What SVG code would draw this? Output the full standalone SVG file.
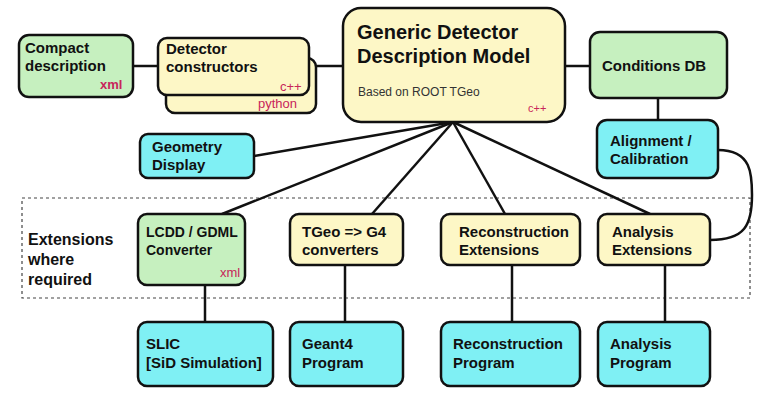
<svg xmlns="http://www.w3.org/2000/svg" width="770" height="402" viewBox="0 0 770 402">
<style>
.b{stroke:#111;stroke-width:2.5}
.g{fill:#c6f0bf}.y{fill:#fdf7c6}.c{fill:#7ff0f4}
text{font-family:"Liberation Sans",Arial,sans-serif;font-weight:bold;fill:#111;font-size:15px}
.r{fill:#c8255a;font-weight:normal;font-size:13px}
.s{font-weight:normal;font-size:12px;fill:#333}
.l{stroke:#111;stroke-width:2.5;fill:none}
</style>
<rect width="770" height="402" fill="#fff"/>
<rect x="22" y="198" width="728" height="100" fill="none" stroke="#444" stroke-width="1.2" stroke-dasharray="3,3"/>
<text x="28" y="245" style="font-size:16px">Extensions</text><text x="28" y="265" style="font-size:16px">where</text><text x="28" y="285" style="font-size:16px">required</text>
<g id="connectors">
<line class="l" x1="133" y1="66" x2="158" y2="66"/>
<line class="l" x1="316" y1="66" x2="343" y2="66"/>
<line class="l" x1="565" y1="66" x2="590" y2="66"/>
<line class="l" x1="658" y1="98" x2="658" y2="120"/>
<line class="l" x1="453" y1="122" x2="254" y2="156"/>
<line class="l" x1="453" y1="122" x2="222" y2="214"/>
<line class="l" x1="453" y1="122" x2="372" y2="214"/>
<line class="l" x1="453" y1="122" x2="505" y2="214"/>
<line class="l" x1="453" y1="122" x2="650" y2="214"/>
<path class="l" d="M718 150 C752 150 752 175 752 195 C752 225 745 240 710 240"/>
<line class="l" x1="205" y1="285" x2="205" y2="322"/>
<line class="l" x1="345" y1="265" x2="345" y2="322"/>
<line class="l" x1="512" y1="265" x2="512" y2="322"/>
<line class="l" x1="665" y1="265" x2="665" y2="322"/>
</g>
<g id="compact"><rect class="b g" x="19" y="35" width="114" height="62" rx="10"/>
<text x="25" y="53">Compact</text><text x="25" y="71">description</text><text class="r" x="100" y="89" style="font-weight:bold">xml</text></g>
<g id="detector"><rect class="b y" x="166" y="58" width="150" height="55" rx="9"/>
<rect class="b y" x="158" y="38" width="151" height="57" rx="9"/>
<text x="166" y="54">Detector</text><text x="166" y="72">constructors</text>
<text class="r" x="280" y="91">c++</text><text class="r" x="258" y="108">python</text></g>
<g id="gddm"><rect class="b y" x="343" y="8" width="222" height="114" rx="18"/>
<text x="357" y="39" style="font-size:20px">Generic Detector</text><text x="357" y="63" style="font-size:20px">Description Model</text>
<text class="s" x="358" y="96">Based on ROOT TGeo</text><text class="r" x="528" y="112" style="font-size:11px">c++</text></g>
<g id="conditions"><rect class="b g" x="590" y="32" width="137" height="66" rx="10"/><text x="602" y="71">Conditions DB</text></g>
<g id="alignment"><rect class="b c" x="597" y="120" width="121" height="58" rx="10"/><text x="610" y="146">Alignment /</text><text x="610" y="164">Calibration</text></g>
<g id="geometry"><rect class="b c" x="140" y="134" width="114" height="44" rx="8"/><text x="152" y="152">Geometry</text><text x="152" y="170">Display</text></g>
<g id="lcdd"><rect class="b g" x="138" y="214" width="107" height="71" rx="9"/><text x="146" y="237" style="font-size:14px">LCDD / GDML</text><text x="146" y="255" style="font-size:14px">Converter</text><text class="r" x="220" y="277">xml</text></g>
<g id="tgeo"><rect class="b y" x="290" y="214" width="113" height="51" rx="9"/><text x="302" y="237">TGeo  =&gt; G4</text><text x="302" y="255">converters</text></g>
<g id="recoext"><rect class="b y" x="441" y="214" width="139" height="51" rx="9"/><text x="459" y="237">Reconstruction</text><text x="459" y="255">Extensions</text></g>
<g id="anaext"><rect class="b y" x="598" y="214" width="112" height="51" rx="9"/><text x="612" y="237">Analysis</text><text x="612" y="255">Extensions</text></g>
<g id="slic"><rect class="b c" x="138" y="322" width="135" height="64" rx="9"/><text x="146" y="349">SLIC</text><text x="146" y="368">[SiD Simulation]</text></g>
<g id="geant4"><rect class="b c" x="290" y="322" width="113" height="64" rx="9"/><text x="302" y="349">Geant4</text><text x="302" y="368">Program</text></g>
<g id="recoprog"><rect class="b c" x="441" y="322" width="139" height="64" rx="9"/><text x="453" y="349">Reconstruction</text><text x="453" y="368">Program</text></g>
<g id="anaprog"><rect class="b c" x="598" y="322" width="112" height="64" rx="9"/><text x="610" y="349">Analysis</text><text x="610" y="368">Program</text></g>
</svg>
